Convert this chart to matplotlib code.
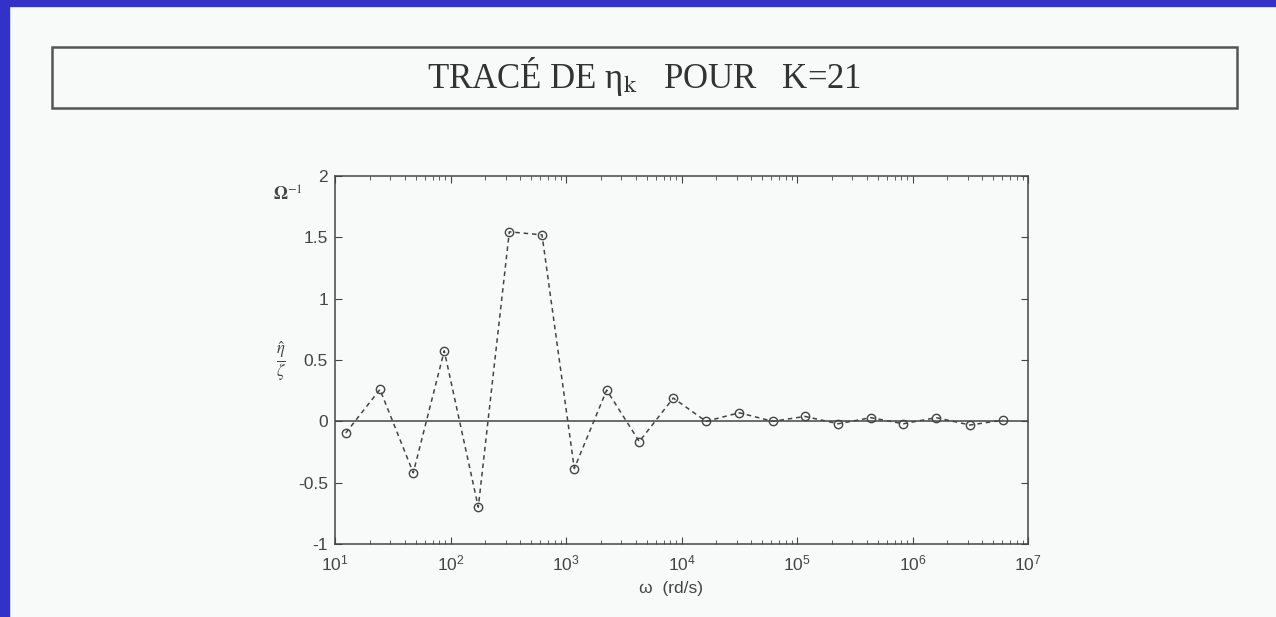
import numpy as np
import matplotlib
matplotlib.use('Agg')
from matplotlib import pyplot as plt
from matplotlib.patches import Rectangle
from matplotlib.ticker import LogLocator, FixedLocator

plt.rcParams['mathtext.fontset'] = 'stix'
plt.rcParams['font.family'] = ['Liberation Sans', 'DejaVu Sans']

# pulsations (rd/s) and normalised values
omega = [12.4, 24.5, 47.6, 88.3, 174, 323, 620, 1180, 2250, 4310, 8490,
         16300, 31600, 61600, 117000, 228000, 435000, 832000, 1.6e6, 3.15e6, 6.1e6]
eta_zeta = [-0.095, 0.26, -0.42, 0.575, -0.70, 1.545, 1.52, -0.385, 0.255, -0.165, 0.19,
            0.0, 0.07, 0.0, 0.04, -0.02, 0.03, -0.02, 0.03, -0.03, 0.01]
y_ticks = [-1, -0.5, 0, 0.5, 1, 1.5, 2]
y_tick_labels = ['-1', '-0.5', '0', '0.5', '1', '1.5', '2']

W, H = 1276, 617
bg = '#f8f9f9'
fig = plt.figure(figsize=(W/100, H/100), dpi=100, facecolor=bg)

# bord bleu
fig.add_artist(Rectangle((0, 1-6/H), 1, 6/H, transform=fig.transFigure, color='#3232c8', zorder=0))
fig.add_artist(Rectangle((0, 0), 9/W, 1, transform=fig.transFigure, color='#3232c8', zorder=0))

# cadre du titre
fig.add_artist(Rectangle((52/W, 1-108/H), (1237-52)/W, (108-47)/H, transform=fig.transFigure,
                         fill=False, edgecolor='#555555', linewidth=1.8))
fig.text(644/W, 1-77/H, r'TRACÉ DE η$_{\mathrm{k}}$   POUR   K=21', ha='center', va='center',
         fontsize=25, family=['Liberation Serif', 'DejaVu Serif'], color='#333333')

ax = fig.add_axes([335/W, 1-544/H, (1028-335)/W, (544-176)/H])
ax.set_facecolor(bg)
ax.set_xscale('log')
ax.set_xlim(10, 1e7)
ax.set_ylim(-1, 2)
ax.axhline(0, color='#444444', linewidth=1.1)
ax.plot(omega, eta_zeta, linestyle='--', color='#444444', linewidth=1.1,
        marker='o', markersize=6, markerfacecolor='none', markeredgecolor='#444444',
        markeredgewidth=1.0, dashes=(3, 2.5))

ax.yaxis.set_major_locator(FixedLocator(y_ticks))
ax.set_yticklabels(y_tick_labels)
ax.xaxis.set_major_locator(LogLocator(base=10, numticks=10))
ax.xaxis.set_minor_locator(LogLocator(base=10, subs=np.arange(2, 10), numticks=20))
ax.tick_params(which='both', direction='in', top=True, right=True, colors='#444444',
               labelsize=12.5, labelcolor='#444444')
ax.tick_params(which='major', length=5, pad=5)
ax.tick_params(axis='x', which='major', pad=7)
ax.tick_params(which='minor', length=3)
for s in ax.spines.values():
    s.set_color('#444444')
    s.set_linewidth(1.1)

fig.text(671/W, 1-588/H, 'ω  (rd/s)', ha='center', va='center', fontsize=12.5, color='#444444')
fig.text(288/W, 1-195/H, r'$\mathbf{\Omega}^{\mathrm{-1}}$', ha='center', va='center', fontsize=13, color='#444444')
fig.text(281/W, 1-362/H, r'$\frac{\hat{\eta}}{\zeta}$', ha='center', va='center', fontsize=17, color='#444444')

plt.savefig('out.png', dpi=100, facecolor=bg)
